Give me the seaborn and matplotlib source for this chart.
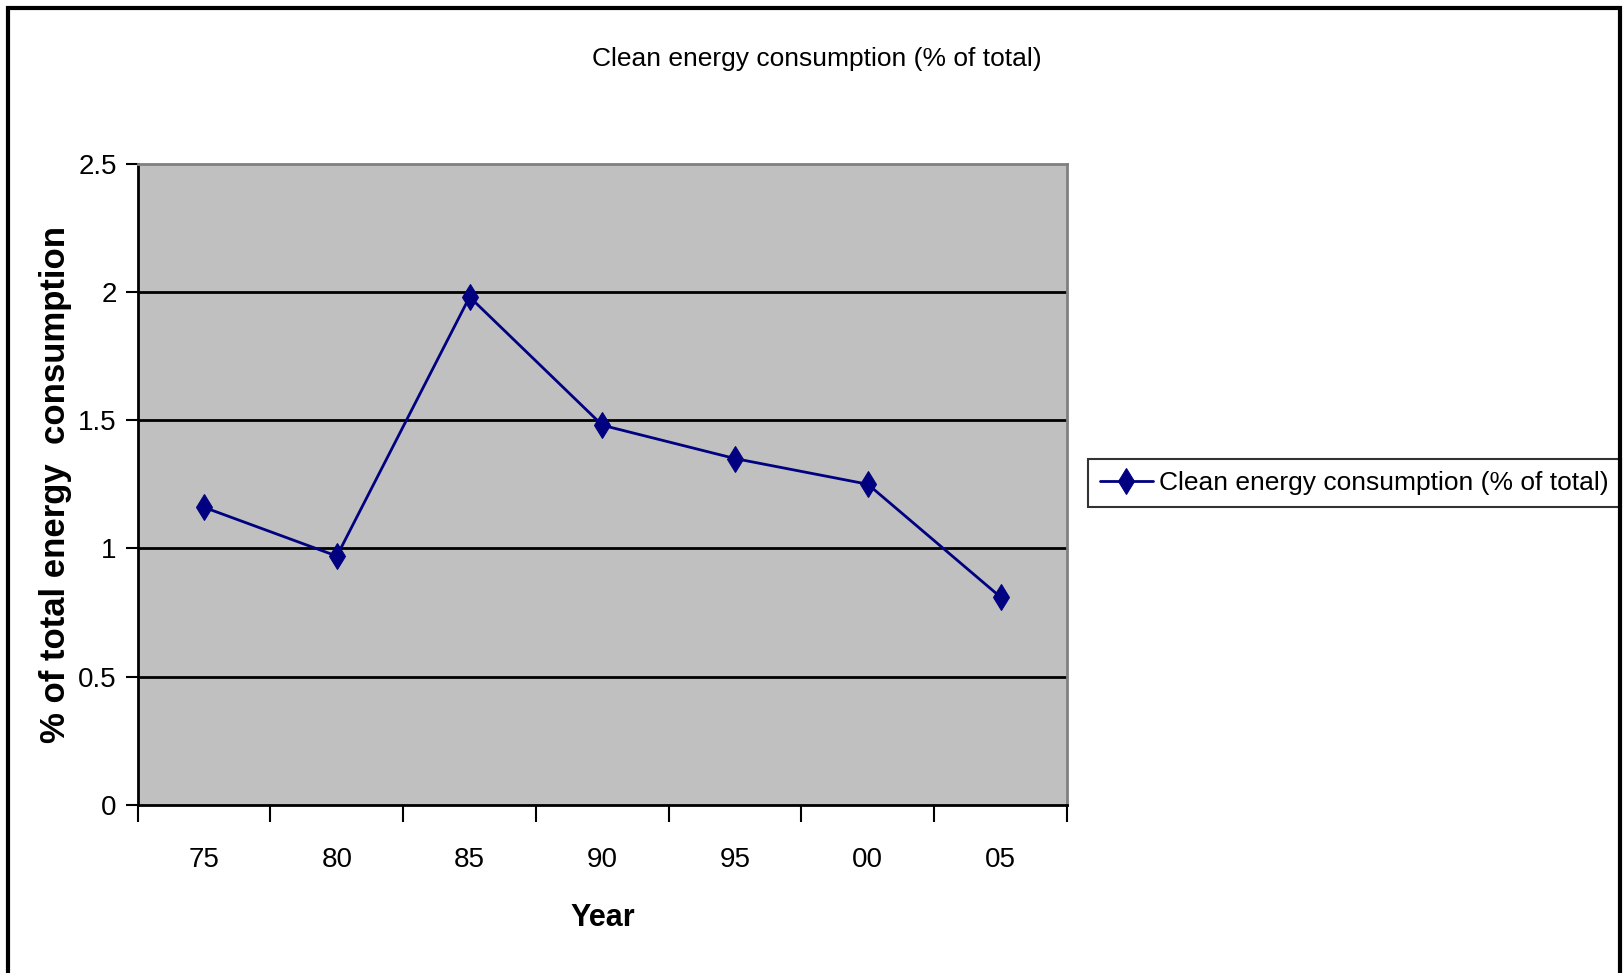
import matplotlib
matplotlib.use("Agg")
import matplotlib.pyplot as plt
from matplotlib.patches import Rectangle
from matplotlib.ticker import FixedLocator
import seaborn as sns
import pandas as pd

# Data
years = ["75", "80", "85", "90", "95", "00", "05"]
share = [1.16, 0.97, 1.98, 1.48, 1.35, 1.25, 0.81]
series_name = "Clean energy consumption (% of total)"
y_ticks = [0, 0.5, 1, 1.5, 2, 2.5]
y_tick_labels = ["0", "0.5", "1", "1.5", "2", "2.5"]

df = pd.DataFrame({"Year": years, "share": share})

sns.set_theme(style="white")
plt.rcParams["font.family"] = ["Liberation Sans", "DejaVu Sans"]
plt.rcParams.update({
    "text.color": "black",
    "axes.labelcolor": "black",
    "xtick.color": "black",
    "ytick.color": "black",
})

W, H = 1623, 973
fig = plt.figure(figsize=(W / 100, H / 100), dpi=100)
fig.patch.set_facecolor("white")

left, right, top, bottom = 137.7, 1067, 163.5, 805
ax = fig.add_axes([left / W, 1 - bottom / H, (right - left) / W, (bottom - top) / H])
ax.set_facecolor("#C0C0C0")

navy = "#000080"
sns.lineplot(data=df, x="Year", y="share", ax=ax, color=navy, linewidth=2,
             marker="d", markersize=13, markeredgecolor=navy, markerfacecolor=navy,
             label=series_name, sort=False, zorder=3)

ax.set_xlim(-0.5, len(years) - 0.5)
ax.set_ylim(0, 2.5)

# horizontal gridlines
for v in y_ticks[1:-1]:
    ax.axhline(v, color="black", linewidth=2, zorder=1)

ax.set_yticks(y_ticks)
ax.set_yticklabels(y_tick_labels)
ax.set_xticks(range(len(years)))
ax.set_xticklabels(years)
ax.xaxis.set_minor_locator(FixedLocator([i - 0.5 for i in range(len(years) + 1)]))
ax.tick_params(axis="x", which="major", length=0, pad=30, labelsize=20, colors="black")
ax.tick_params(axis="x", which="minor", length=12, width=1.5, color="black", bottom=True)
ax.tick_params(axis="y", which="major", length=9, width=1.5, color="black", left=True,
               labelsize=20, pad=6, labelcolor="black")

for side in ["left", "bottom"]:
    ax.spines[side].set_color("black")
    ax.spines[side].set_linewidth(2)
for side in ["top", "right"]:
    ax.spines[side].set_color("#808080")
    ax.spines[side].set_linewidth(2)
    ax.spines[side].set_visible(True)

ax.set_xlabel("Year", fontsize=22, fontweight="bold", labelpad=22, color="black")
ax.set_ylabel("% of total energy  consumption", fontsize=25, fontweight="bold", color="black")
ax.yaxis.set_label_coords(-0.071, 0.5)

fig.text(817 / W, 1 - 59 / H, series_name, ha="center", va="center", fontsize=19,
         color="black")

leg = ax.legend(loc="center left", bbox_to_anchor=(1088 / W, 1 - 483 / H),
                bbox_transform=fig.transFigure, frameon=True, fancybox=False,
                fontsize=19, handlelength=2.0, handletextpad=0.25,
                borderpad=0.45, borderaxespad=0)
leg.get_frame().set_edgecolor("black")
leg.get_frame().set_linewidth(1.5)
for t in leg.get_texts():
    t.set_color("black")

# outer chart frame
fig.patches.append(Rectangle((8 / W, -0.05), (1620 - 8) / W, 1.05 - 8 / H,
                             transform=fig.transFigure, fill=False,
                             edgecolor="black", linewidth=3))

fig.savefig("out.png", dpi=100)
